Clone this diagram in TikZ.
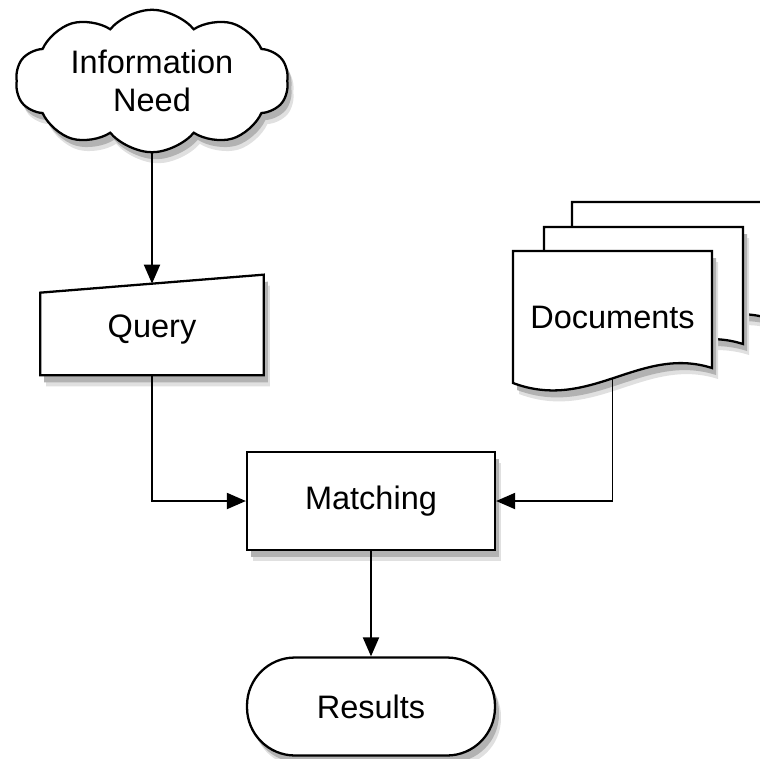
\documentclass[tikz,border=0pt]{standalone}
\usepackage{fontspec}
\setmainfont{Liberation Sans}
\usetikzlibrary{positioning,arrows.meta,calc,shapes,shapes.symbols,backgrounds,shadows}

\begin{document}
\begin{tikzpicture}[
    x=0.02cm, y=-0.02cm,
    font=\fontsize{18.5}{21.5}\selectfont,
    shadowed/.style={
      drop shadow={shadow xshift=0.12cm, shadow yshift=-0.22cm, fill=black!12, opacity=1},
      drop shadow={shadow xshift=0.08cm, shadow yshift=-0.14cm, fill=black!30, opacity=1}},
    outline/.style={draw, line width=1.3pt, fill=white, shadowed},
    box/.style={rectangle, outline, minimum width=4.96cm, minimum height=1.96cm},
    textonly/.style={rectangle, inner sep=0pt},
    arrow/.style={-{Triangle[length=0.38cm, width=0.32cm]}, line width=1.1pt}
]
\useasboundingbox (0,0) rectangle (760,758);

\node[cloud, cloud puffs=10, cloud puff arc=100, aspect=2, outline, minimum width=5.46cm, minimum height=2.76cm, align=center, inner sep=0pt] (need) at (152,81) {Information\\Need};
\node[textonly, minimum width=4.46cm, minimum height=1.82cm] (query) at (152,329.5) {Query};
\node[textonly, minimum width=3.98cm, minimum height=2.64cm] (docs) at (612.5,317) {Documents};
\node[box] (matching) at (371,501) {Matching};
\node[box, rounded corners=0.96cm] (results) at (371,706.5) {Results};

% manual input and stacked pages
\begin{scope}[on background layer]
  \draw[outline] (query.south west) -- ($(query.north west)+(0,9)$) -- ($(query.north east)+(0,-9)$) -- (query.south east) -- cycle;
  \foreach \dx/\dy in {59/-49, 31/-24, 0/0} {
    \begin{scope}[shift={(\dx,\dy)}]
      \draw[outline] (513,251) -- (712,251) -- (712,368) .. controls (640,345) and (590,412) .. (513,383) -- cycle;
    \end{scope}
  }
\end{scope}

\draw[arrow] (need.south) -- (query.north);
\draw[arrow] (query.south) |- (matching.west);
\draw[arrow, shorten <=-0.1cm] (docs.south) |- (matching.east);
\draw[arrow] (matching) -- (results);
\end{tikzpicture}
\end{document}
